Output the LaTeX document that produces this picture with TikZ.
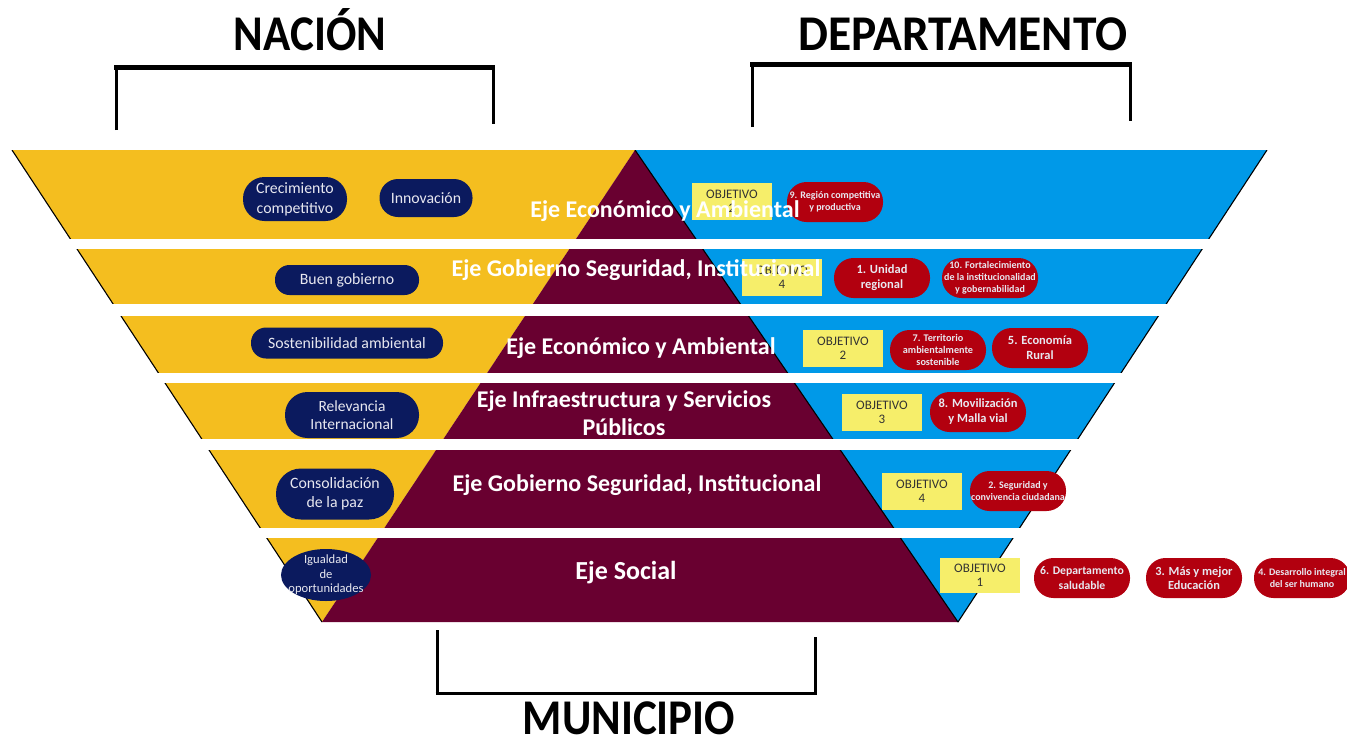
\documentclass[tikz,border=0pt]{standalone}
\usepackage{fontspec}
\setmainfont{Carlito}
\usetikzlibrary{shapes.geometric}
\definecolor{ylw}{HTML}{F4BE1F}
\definecolor{blu}{HTML}{0099E8}
\definecolor{mar}{HTML}{690030}
\definecolor{nav}{HTML}{0B1A5E}
\definecolor{redp}{HTML}{B2000F}
\definecolor{objy}{HTML}{F6EE6A}
\definecolor{pilltxt}{HTML}{E8E8F0}
\newcommand\fsz[2]{\fontsize{#1}{#2}\selectfont}
\tikzset{
  edge/.style={black, line width=1.1pt},
  npill/.style={rectangle, fill=nav, text=pilltxt, align=center, inner sep=0pt,
    font=\fsz{15.8}{19}},
  rpill/.style={rectangle, rounded corners=19.5pt, fill=redp, text=pilltxt, align=center, inner sep=0pt,
    font=\bfseries\fsz{12.5}{15}, minimum width=96, minimum height=40},
  objbox/.style={rectangle, fill=objy, text=black!80, align=center, inner sep=0pt,
    font=\fsz{13}{14}, minimum width=80, minimum height=37},
  eje/.style={text=white, font=\bfseries\fsz{24}{28}, align=center, inner sep=0pt},
  title/.style={text=black, font=\bfseries\fsz{50}{50}, anchor=base, inner sep=0pt, xscale=0.9},
  brtop/.style={black, line width=5pt},
  brside/.style={black, line width=3pt}
}
\begin{document}
\begin{tikzpicture}[x=1pt,y=-1pt]
\useasboundingbox (0,0) rectangle (1347,734);
\fill[white] (0,0) rectangle (1347,734);

% bands of the inverted pyramid
\foreach \t/\b in {150/238,249/303,316/372,383/438,450/527,538/622}{
  \begin{scope}
    \clip (0,\t) rectangle (1347,\b);
    \fill[ylw] (12,150) -- (635,150) -- (322,622) -- cycle;
    \fill[blu] (635,150) -- (1267,150) -- (958,622) -- cycle;
    \fill[mar] (635,150) -- (958,622) -- (322,622) -- cycle;
    \draw[edge] (12,150) -- (322,622);
    \draw[edge] (1267,150) -- (958,622);
    \draw[edge] (635,150) -- (958,622);
  \end{scope}
}

% titles
\node[title] (nacion) at (310,50) {NACIÓN};
\node[title, xscale=1.055] (depto) at (963,50) {DEPARTAMENTO};
\node[title] (muni) at (629,734) {MUNICIPIO};

% brackets
\draw[brside] (116,130) -- (116,67);
\draw[brside] (493,67) -- (493,124);
\draw[brtop] (114,67) -- (495,67);
\draw[brside] (752,127) -- (752,64);
\draw[brside] (1130,64) -- (1130,121);
\draw[brtop] (750,64) -- (1132,64);
\draw[brside] (437,630) -- (437,693);
\draw[brside] (815,693) -- (815,637);
\draw[brside] (435.5,693) -- (816.5,693);

% national pills
\node[npill, rounded corners=21.5pt, minimum width=104, minimum height=44, font=\fsz{15.8}{20}] (crec) at (295,199) {Crecimiento\\competitivo};
\node[npill, rounded corners=18.5pt, minimum width=93, minimum height=38] (innov) at (426,198) {Innovación};
\node[npill, rounded corners=14.5pt, minimum width=144, minimum height=30] (buen) at (347,280) {Buen gobierno};
\node[npill, rounded corners=15pt, minimum width=192, minimum height=31] (sost) at (347,343) {Sostenibilidad ambiental};
\node[npill, rounded corners=22.5pt, minimum width=134, minimum height=46, font=\fsz{15.5}{18}] (relev) at (352,415) {Relevancia\\Internacional};
\node[npill, rounded corners=25pt, minimum width=118, minimum height=51] (conso) at (335,494) {Consolidación\\de la paz};
\node[ellipse, fill=nav, text=pilltxt, align=center, inner xsep=-14pt, inner ysep=-9pt, font=\fsz{12.6}{14.5},
  minimum width=90, minimum height=52] (igual) at (326,575) {Igualdad\\de\\oportunidades};

% objective boxes
\node[objbox] (obj1) at (732,201) {OBJETIVO\\2};
\node[objbox] (obj2) at (782,277) {OBJETIVO\\4};
\node[objbox] (obj3) at (843,348) {OBJETIVO\\2};
\node[objbox] (obj4) at (882,412) {OBJETIVO\\3};
\node[objbox] (obj5) at (922,491) {OBJETIVO\\4};
\node[objbox, minimum height=35] (obj6) at (980,575) {OBJETIVO\\1};

% department pills
\node[rpill, font=\bfseries\fsz{10}{12}] (r9) at (835,202) {9. Región competitiva\\y productiva};
\node[rpill] (r1) at (882,278) {1. Unidad\\regional};
\node[rpill, font=\bfseries\fsz{10}{12}] (r10) at (990,278) {10. Fortalecimiento\\de la institucionalidad\\y gobernabilidad};
\node[rpill, font=\bfseries\fsz{10.2}{12}] (r7) at (938,350) {7. Territorio\\ambientalmente\\sostenible};
\node[rpill] (r5) at (1040,348) {5. Economía\\Rural};
\node[rpill] (r8) at (978,412) {8. Movilización\\y Malla vial};
\node[rpill, font=\bfseries\fsz{10}{12.5}] (r2) at (1018,491) {2. Seguridad y\\convivencia ciudadana};
\node[rpill, font=\bfseries\fsz{11.7}{14.5}] (r6) at (1082,578) {6. Departamento\\saludable};
\node[rpill, font=\bfseries\fsz{12.4}{14.5}] (r3) at (1194,578) {3. Más y mejor\\Educación};
\node[rpill, font=\bfseries\fsz{10}{12.5}] (r4) at (1302,578) {4. Desarrollo integral\\del ser humano};

% axis labels
\node[eje] (e1) at (665,211) {Eje Económico y Ambiental};
\node[eje] (e2) at (636,270) {Eje Gobierno Seguridad, Institucional};
\node[eje] (e3) at (641,348) {Eje Económico y Ambiental};
\node[eje] (e4) at (624,413) {Eje Infraestructura y Servicios\\Públicos};
\node[eje] (e5) at (637,485) {Eje Gobierno Seguridad, Institucional};
\node[eje, font=\bfseries\fsz{26}{28}] (e6) at (626,573) {Eje Social};
\end{tikzpicture}
\end{document}
